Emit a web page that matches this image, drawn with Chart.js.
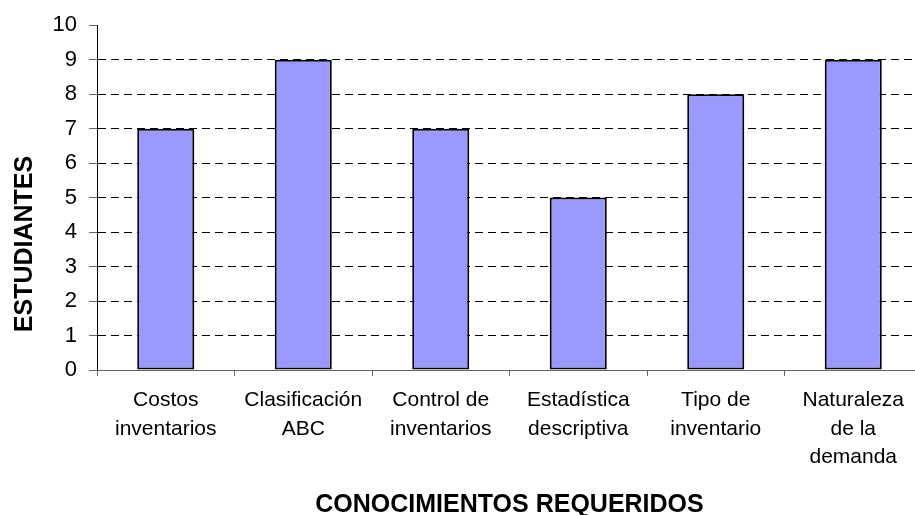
<!DOCTYPE html>
<html>
<head>
<meta charset="utf-8">
<script src="https://cdn.jsdelivr.net/npm/chart.js@4"></script>
<style>
  html, body { margin: 0; padding: 0; background: #fff; overflow: hidden; }
  #wrap { width: 925px; height: 515px; }
</style>
</head>
<body>
<div id="wrap"><canvas id="barChart" width="925" height="515"></canvas></div>
<script>
// Conocimientos requeridos - bar chart
const categories = [
    ['Costos', 'inventarios'],
    ['Clasificación', 'ABC'],
    ['Control de', 'inventarios'],
    ['Estadística', 'descriptiva'],
    ['Tipo de', 'inventario'],
    ['Naturaleza', 'de la', 'demanda']
];
const estudiantes = [7, 9, 7, 5, 8, 9];
const yTicks = [0, 1, 2, 3, 4, 5, 6, 7, 8, 9, 10];

const FONT = "'Liberation Sans', Arial, sans-serif";

// y title drawn by hand, Excel puts it a bit lower than the plot centre
const yTitlePlugin = {
    id: 'yTitle',
    afterDraw(chart) {
        const { ctx, chartArea } = chart;
        ctx.save();
        ctx.translate(chartArea.left - 72, chartArea.bottom - 126);
        ctx.rotate(-Math.PI / 2);
        ctx.font = 'bold 25px ' + FONT;
        ctx.fillStyle = '#000';
        ctx.textAlign = 'center';
        ctx.textBaseline = 'middle';
        ctx.fillText('ESTUDIANTES', 0, 0);
        ctx.restore();
    }
};

const ctx = document.getElementById('barChart').getContext('2d');
const barChart = new Chart(ctx, {
    type: 'bar',
    data: {
        labels: categories,
        datasets: [{
            label: 'Estudiantes',
            data: estudiantes,
            backgroundColor: '#9999FF',
            borderColor: '#000000',
            borderWidth: 2,
            borderSkipped: false,
            barPercentage: 0.415,
            categoryPercentage: 1.0
        }]
    },
    plugins: [yTitlePlugin],
    options: {
        responsive: false,
        animation: false,
        layout: { padding: { top: 24, right: 3, left: 0, bottom: 0 } },
        plugins: {
            legend: { display: false },
            tooltip: { enabled: false }
        },
        scales: {
            x: {
                grid: {
                    drawOnChartArea: false,
                    tickLength: 6,
                    tickColor: '#666'
                },
                border: { color: '#666', width: 1 },
                ticks: {
                    color: '#000',
                    font: { family: FONT, size: 21, lineHeight: 1.357 },
                    padding: 10,
                    maxRotation: 0,
                    autoSkip: false
                },
                title: {
                    display: true,
                    text: 'CONOCIMIENTOS REQUERIDOS',
                    color: '#000',
                    font: { family: FONT, size: 25, weight: 'bold', lineHeight: 0.8 },
                    padding: { top: 0, bottom: 0 }
                },
                afterFit(scale) { scale.height = 145; }
            },
            y: {
                min: yTicks[0],
                max: yTicks[yTicks.length - 1],
                afterBuildTicks(scale) {
                    scale.ticks = yTicks.map(v => ({ value: v }));
                },
                grid: {
                    color: c => (c.tick && (c.tick.value === 0 || c.tick.value === 10)) ? 'rgba(0,0,0,0)' : '#000',
                    lineWidth: 1,
                    tickLength: 8,
                    tickColor: '#666',
                    tickBorderDash: []
                },
                border: { color: '#000', width: 1, dash: [8, 5] },
                ticks: {
                    color: '#000',
                    font: { family: FONT, size: 22 },
                    padding: 12
                },
                afterFit(scale) { scale.width = 97; }
            }
        }
    }
});
</script>
</body>
</html>
